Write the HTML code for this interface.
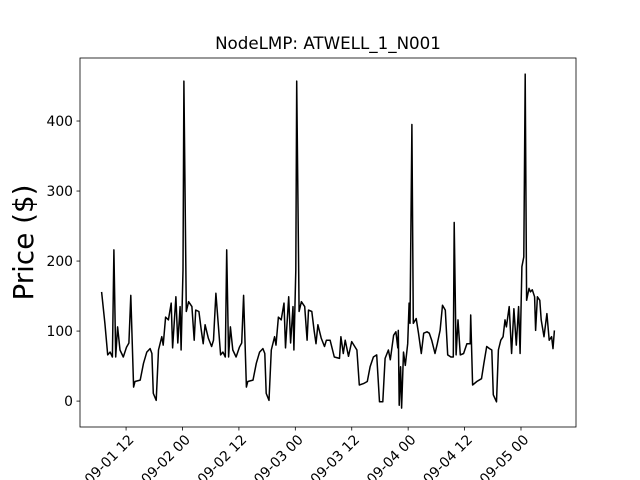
<!DOCTYPE html>
<html><head><meta charset="utf-8"><style>
html,body{margin:0;padding:0;background:#fff;width:640px;height:480px;overflow:hidden}
svg text{font-family:"DejaVu Sans","Liberation Sans",sans-serif}
</style></head><body>
<svg id="chart" width="640" height="480" xmlns="http://www.w3.org/2000/svg"></svg>
<script>
// hours since 09-01 00:00
const hours = [6.8,7.5,8.1,8.6,9.1,9.4,9.8,10.2,10.7,11.4,12.1,12.6,13,13.6,13.9,15,15.7,16.4,17.1,17.5,17.8,18.4,18.9,19.6,19.9,20.4,21,21.6,21.9,22.6,23,23.5,23.7,24.1,24.3,24.8,25.3,26,26.5,26.8,27.5,28,28.4,28.8,29.5,30.2,30.6,31.1,31.6,32.1,32.6,33.1,33.4,33.8,34.2,34.7,35.4,36.1,36.6,37,37.6,37.9,39,39.7,40.4,41.1,41.5,41.8,42.4,42.9,43.6,43.9,44.4,45,45.6,45.9,46.6,47,47.5,47.7,48.1,48.3,48.8,49.3,50,50.5,50.8,51.5,52,52.4,52.8,53.5,54.2,54.6,55.4,56.3,57.4,57.7,58.2,58.6,59.3,60,61.1,61.6,62.5,63.3,63.9,64.6,65.3,65.9,66.6,67.1,67.8,68.2,68.9,69.4,69.8,69.9,70.1,70.4,70.6,71,71.4,71.9,72.2,72.4,72.8,73.1,73.7,74.2,74.8,75.3,76,76.5,77,77.7,78.2,78.8,79.3,79.9,80.4,81.1,81.6,81.8,82.2,82.6,83.1,83.8,84.5,85.2,85.3,85.7,86.6,87.6,88.1,88.7,89.3,89.8,90.1,90.8,91.2,91.7,92.2,92.6,92.9,93.5,94,94.5,95,95.5,95.8,96.2,96.6,96.9,97.2,97.7,98,98.4,98.9,99.1,99.5,100,100.3,100.9,101.5,102,102.5,102.8,103.1];
const prices = [156,111,66,70,63,216,63,106,73,63,77,83,151,20,28,30,54,70,75,68,11,1,73,92,80,120,116,140,76,149,83,135,73,187,457,128,142,135,87,130,128,101,82,109,90,78,87,154,111,66,70,63,216,63,106,73,63,77,83,151,20,28,30,54,70,75,68,11,1,73,92,80,120,116,140,76,149,83,135,73,187,457,128,142,135,87,130,128,101,82,109,90,78,87,87,63,61,92,68,87,64,85,73,23,25,28,49,63,66,-1,-1,61,73,59,94,99,76,101,-6,49,-10,70,51,82,140,111,395,111,118,97,68,97,99,97,87,68,82,101,137,130,66,63,63,255,66,116,66,68,82,82,123,23,28,32,54,78,75,73,9,-1,73,87,92,116,106,135,68,132,80,135,68,192,206,467,144,161,156,159,149,101,149,144,116,92,125,87,92,75,101];
const yTicks = [0,100,200,300,400];
const xTickHours = [12,24,36,48,60,72,84,96];
const xTickLabels = ["09-01 12","09-02 00","09-02 12","09-03 00","09-03 12","09-04 00","09-04 12","09-05 00"];

const L=80,R=576,T=58,B=427;
const hMin=2.2,hMax=107.7,vMin=-37,vMax=490;
const X=h=>L+(h-hMin)/(hMax-hMin)*(R-L);
const Y=v=>B-(v-vMin)/(vMax-vMin)*(B-T);
const svg=document.getElementById('chart');
const NS='http://www.w3.org/2000/svg';
function mk(tag,attrs,text){const e=document.createElementNS(NS,tag);for(const k in attrs)e.setAttribute(k,attrs[k]);if(text!==undefined)e.textContent=text;svg.appendChild(e);return e;}

let d='';
hours.forEach((h,i)=>{d+=(i?'L':'M')+X(h).toFixed(1)+','+Y(prices[i]).toFixed(1);});
const line=mk('path',{d:d,fill:'none',stroke:'#000','stroke-width':1.5,'stroke-linejoin':'round'});



const frame=mk('rect',{x:L,y:T,width:R-L,height:B-T,fill:'none',stroke:'#000','stroke-width':0.8});



yTicks.forEach(v=>{
  const y=Y(v);
  const tk=mk('line',{x1:L-3.5,x2:L,y1:y,y2:y,stroke:'#000','stroke-width':0.8});
  
  
  const t=mk('text',{x:L-7,y:y+5,'text-anchor':'end','font-size':13.9},String(v));
  
  
});
xTickHours.forEach((h,i)=>{
  const x=X(h);
  const tk=mk('line',{x1:x,x2:x,y1:B,y2:B+3.5,stroke:'#000','stroke-width':0.8});
  
  
  const ax=x+5, ay=B+10;
  const t=mk('text',{x:ax,y:ay+5,'text-anchor':'end','font-size':13.9,transform:'rotate(-45 '+ax+' '+ay+')'},xTickLabels[i]);
  
  
});
const title=mk('text',{x:(L+R)/2,y:49,'text-anchor':'middle','font-size':16.7},'NodeLMP: ATWELL_1_N001');


const yl=mk('text',{x:33,y:(T+B)/2,'text-anchor':'middle','font-size':27.8,transform:'rotate(-90 33 '+((T+B)/2)+')'},'Price ($)');


</script>
</body></html>
